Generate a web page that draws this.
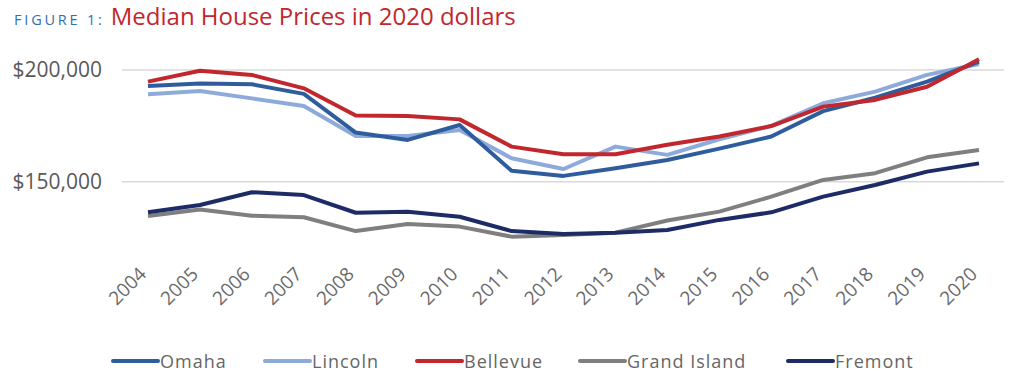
<!DOCTYPE html>
<html>
<head>
<meta charset="utf-8">
<script src="https://cdn.jsdelivr.net/npm/d3@7"></script>
<style>
  body { margin: 0; background: #fff; }
  svg { display: block; }
</style>
</head>
<body>
<script>
// Data
const years = [2004, 2005, 2006, 2007, 2008, 2009, 2010, 2011, 2012, 2013, 2014, 2015, 2016, 2017, 2018, 2019, 2020];
const omaha = [192800, 194000, 193600, 189300, 172000, 168700, 175400, 154900, 152600, 156000, 159700, 164800, 170200, 181600, 187600, 194800, 203700];
const lincoln = [189100, 190600, 187300, 183900, 170500, 170500, 173100, 160500, 155700, 165700, 162000, 169000, 175000, 185100, 190300, 197800, 202700];
const bellevue = [194800, 199700, 197800, 191800, 179600, 179400, 177900, 165700, 162300, 162300, 166500, 170200, 174900, 183600, 186600, 192500, 204800];
const grandIsland = [134600, 137600, 134800, 134100, 127900, 131100, 129900, 125400, 126100, 127200, 132600, 136600, 143300, 150800, 153800, 160900, 164200];
const fremont = [136300, 139600, 145300, 144000, 136100, 136600, 134300, 127900, 126600, 127200, 128400, 132900, 136300, 143300, 148500, 154500, 158200];
const seriesNames = ['Omaha', 'Lincoln', 'Bellevue', 'Grand Island', 'Fremont'];
const seriesColors = ['#2f5c9c', '#8eaadb', '#c1272d', '#7f7f7f', '#1d2c66'];
const yTicks = [150000, 200000];

const allSeries = [omaha, lincoln, bellevue, grandIsland, fremont];
// draw order: back to front
const drawOrder = [3, 4, 1, 0, 2];

const w = 1024;
const h = 384;

const svg = d3
  .select('body')
  .append('svg')
  .attr('width', w)
  .attr('height', h);

// Title
const title = svg
  .append('text')
  .attr('x', 14)
  .attr('y', 25)
  .style('font-family', '"Open Sans", "Noto Sans", sans-serif');
title
  .append('tspan')
  .attr('fill', '#2f6fad')
  .style('font-size', '14.5px')
  .style('letter-spacing', '2.8px')
  .text('FIGURE 1:');
title
  .append('tspan')
  .attr('dx', 6)
  .attr('fill', '#c1272d')
  .style('font-size', '24px')
  .text('Median House Prices in 2020 dollars');

const xScale = d3
  .scalePoint()
  .domain(years)
  .range([148, 979]);

const yScale = d3
  .scaleLinear()
  .domain([150000, 200000])
  .range([181.7, 70]);

// Gridlines
svg
  .append('g')
  .selectAll('line')
  .data(yTicks)
  .enter()
  .append('line')
  .attr('x1', 122)
  .attr('x2', 1004)
  .attr('y1', d => yScale(d))
  .attr('y2', d => yScale(d))
  .attr('stroke', '#d9d9d9')
  .attr('stroke-width', 1.5);

// Y axis labels
const fmt = d3.format('$,');
svg
  .append('g')
  .selectAll('text')
  .data(yTicks)
  .enter()
  .append('text')
  .attr('x', 102)
  .attr('y', d => yScale(d) + 7)
  .attr('text-anchor', 'end')
  .attr('fill', '#595959')
  .style('font-family', '"Open Sans", "Noto Sans", sans-serif')
  .style('font-size', '21px')
  .text(d => fmt(d));

// X axis labels (rotated)
svg
  .append('g')
  .selectAll('text')
  .data(years)
  .enter()
  .append('text')
  .attr('transform', d => 'translate(' + (xScale(d) - 10) + ',266) rotate(-45)')
  .attr('text-anchor', 'end')
  .attr('dy', '0.7em')
  .attr('fill', '#6a6a6a')
  .style('font-family', '"Open Sans", "Noto Sans", sans-serif')
  .style('font-size', '19px')
  .text(d => d);

// Lines
const line = d3
  .line()
  .x((d, i) => xScale(years[i]))
  .y(d => yScale(d));

svg
  .append('g')
  .selectAll('path')
  .data(drawOrder)
  .enter()
  .append('path')
  .attr('d', k => line(allSeries[k]))
  .attr('fill', 'none')
  .attr('stroke', k => seriesColors[k])
  .attr('stroke-width', 4)
  .attr('stroke-linejoin', 'round');

// Legend
const legendX = [113, 265, 417, 580, 788];
const legend = svg
  .append('g')
  .selectAll('g')
  .data(seriesNames)
  .enter()
  .append('g')
  .attr('transform', (d, i) => 'translate(' + legendX[i] + ',361)');

legend
  .append('line')
  .attr('x1', 0)
  .attr('x2', 45)
  .attr('stroke', (d, i) => seriesColors[i])
  .attr('stroke-width', 4)
  .attr('stroke-linecap', 'round');

legend
  .append('text')
  .attr('x', 47)
  .attr('y', 7)
  .attr('fill', '#666')
  .style('font-family', '"Open Sans", "Noto Sans", sans-serif')
  .style('font-size', '18px')
  .style('letter-spacing', '1px')
  .text(d => d);
</script>
</body>
</html>
